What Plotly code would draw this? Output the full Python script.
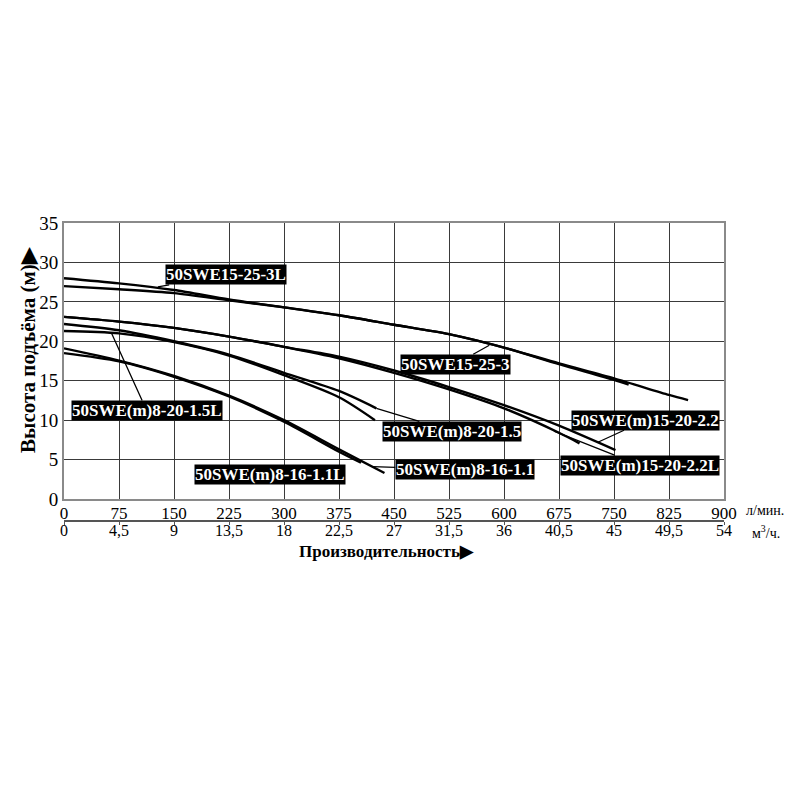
import plotly.graph_objects as go

# расход, л/мин и напор, м для каждой модели
q_15_25_3 = [0, 75, 150, 225, 300, 375, 450, 525, 600, 675, 750, 825, 851]
h_15_25_3 = [28.0, 27.35, 26.5, 25.3, 24.3, 23.3, 22.1, 20.9, 19.2, 17.2, 15.3, 13.2, 12.55]

q_15_25_3L = [0, 75, 150, 225, 300, 375, 450, 525, 600, 675, 750, 770]
h_15_25_3L = [27.0, 26.6, 26.1, 25.2, 24.3, 23.3, 22.1, 20.9, 19.2, 17.1, 15.1, 14.5]

q_15_20_22 = [0, 75, 150, 225, 300, 375, 450, 525, 600, 675, 752]
h_15_20_22 = [23.1, 22.5, 21.7, 20.6, 19.3, 18.05, 16.3, 14.2, 11.9, 9.3, 6.2]

q_15_20_22L = [0, 75, 150, 225, 300, 375, 450, 525, 600, 675, 703]
h_15_20_22L = [23.1, 22.5, 21.7, 20.6, 19.3, 17.85, 16.0, 13.9, 11.5, 8.4, 7.06]

q_8_20_15 = [0, 75, 150, 225, 300, 375, 426]
h_8_20_15 = [22.2, 21.4, 20.0, 18.3, 16.0, 13.7, 11.5]

q_8_20_15L = [0, 75, 150, 225, 300, 375, 424]
h_8_20_15L = [21.3, 21.0, 19.9, 18.2, 15.7, 12.9, 10.0]

q_8_16_11 = [0, 75, 150, 225, 300, 375, 437]
h_8_16_11 = [19.1, 17.55, 15.6, 13.1, 10.0, 6.3, 3.3]

q_8_16_11L = [0, 75, 150, 225, 300, 375, 405]
h_8_16_11L = [18.5, 17.45, 15.5, 13.0, 9.8, 6.0, 4.6]

x_ticks_lmin = [0, 75, 150, 225, 300, 375, 450, 525, 600, 675, 750, 825, 900]
x_ticks_m3h = [0, 4.5, 9, 13.5, 18, 22.5, 27, 31.5, 36, 40.5, 45, 49.5, 54]
y_ticks = [0, 5, 10, 15, 20, 25, 30, 35]

curves = [
    (q_15_25_3, h_15_25_3),
    (q_15_25_3L, h_15_25_3L),
    (q_15_20_22, h_15_20_22),
    (q_15_20_22L, h_15_20_22L),
    (q_8_20_15, h_8_20_15),
    (q_8_20_15L, h_8_20_15L),
    (q_8_16_11, h_8_16_11),
    (q_8_16_11L, h_8_16_11L),
]

# подписи: текст, точка на кривой (x, y), смещение подписи в пикселях (None = без выноски)
labels = [
    ("50SWE15-25-3L", 128, 26.9, 68, -12),
    ("50SWE15-25-3", 580, 19.5, -34, 19),
    ("50SWE(m)15-20-2.2", 728, 7.2, 48, -22),
    ("50SWE(m)15-20-2.2L", 668, 8.6, 86, 34),
    ("50SWE(m)8-20-1.5", 426, 11.5, 76, 23),
    ("50SWE(m)8-20-1.5L", 65, 21.0, 35, 77),
    ("50SWE(m)8-16-1.1L", 281, 3.17, None, None),
    ("50SWE(m)8-16-1.1", 421, 4.1, 92, 3),
]

serif = "Liberation Serif"

fig = go.Figure()

for q, h in curves:
    fig.add_trace(go.Scatter(x=q, y=h, mode="lines", line=dict(color="black", width=2.4, shape="spline", smoothing=0.8),
                             hoverinfo="skip", showlegend=False))

# невидимая линия для второй оси (м³/ч)
fig.add_trace(go.Scatter(x=[v * 60 / 1000 for v in q_15_25_3], y=h_15_25_3, xaxis="x2", mode="lines",
                         line=dict(width=0), opacity=0, hoverinfo="skip", showlegend=False))

for text, x, y, ax, ay in labels:
    if ax is None:
        fig.add_annotation(x=x, y=y, text="<b>" + text + "</b>", showarrow=False, bgcolor="black",
                           font=dict(family=serif, size=17, color="white"), borderpad=0)
    else:
        fig.add_annotation(x=x, y=y, ax=ax, ay=ay, text="<b>" + text + "</b>", showarrow=True, arrowhead=0,
                           arrowwidth=1.3, arrowcolor="black", bgcolor="black",
                           font=dict(family=serif, size=17, color="white"), borderpad=0)

# подписи осей и единиц
fig.add_annotation(xref="paper", yref="paper", x=-0.0545, y=0.574, xanchor="center", yanchor="middle",
                   text="<b>Высота подъёма (м)▶</b>", textangle=-90, showarrow=False,
                   font=dict(family=serif, size=21, color="black"))
fig.add_annotation(xref="paper", yref="paper", x=0.489, y=-0.102, xanchor="center", yanchor="middle",
                   text="<b>Производительность▶</b>", showarrow=False,
                   font=dict(family=serif, size=17, color="black"))
fig.add_annotation(xref="paper", yref="paper", x=1.03, y=0.034, xanchor="left", yanchor="middle",
                   text="л/мин.", showarrow=False, font=dict(family=serif, size=14, color="black"))
fig.add_annotation(xref="paper", yref="paper", x=1.04, y=-0.037, xanchor="left", yanchor="middle",
                   text="м<sup>3</sup>/ч.", showarrow=False, font=dict(family=serif, size=14, color="black"))

fig.update_layout(
    width=800, height=800,
    margin=dict(l=56, r=84, t=215, b=287),
    paper_bgcolor="white", plot_bgcolor="white",
    separators=", ",
    xaxis=dict(range=[0, 900], tickvals=x_ticks_lmin, showgrid=True, gridcolor="#3a3a3a", gridwidth=1.2,
               showline=True, linecolor="#8a8a8a", linewidth=2, mirror=True, zeroline=False, ticks="",
               ticklabelstandoff=-2, tickfont=dict(family=serif, size=17, color="black"), anchor="y"),
    xaxis2=dict(range=[0, 54], tickvals=x_ticks_m3h, overlaying="x", side="bottom", anchor="free", position=0,
                showgrid=False, showline=True, linecolor="#555555", linewidth=1.5, ticks="outside", ticklen=3,
                tickcolor="#555555", zeroline=False, ticklabelstandoff=-8,
                tickfont=dict(family=serif, size=16, color="black")),
    yaxis=dict(range=[0, 35], tickvals=y_ticks, domain=[0.0738, 1], showgrid=True, gridcolor="#3a3a3a",
               gridwidth=1.2, showline=True, linecolor="#8a8a8a", linewidth=2, mirror=True, zeroline=False,
               ticks="", tickfont=dict(family=serif, size=19, color="black")),
)

fig.write_html("out.html")
